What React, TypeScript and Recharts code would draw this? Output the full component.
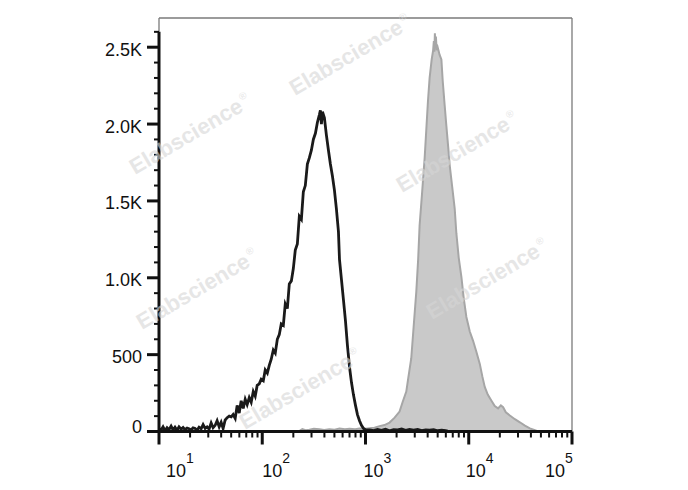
import React from "react";
import { ComposedChart, Area, Line, XAxis, YAxis, ReferenceLine } from "recharts";

// ---- data (x = log10 fluorescence intensity, y = count) ----
const blackLogX = [
  1.0, 1.019, 1.039, 1.058, 1.078, 1.097, 1.117, 1.136, 1.155, 1.175, 1.194, 1.214, 1.233, 1.252, 1.272,
  1.291, 1.311, 1.33, 1.35, 1.369, 1.388, 1.408, 1.427, 1.447, 1.466, 1.485, 1.505, 1.524, 1.544, 1.563,
  1.583, 1.602, 1.621, 1.641, 1.66, 1.68, 1.699, 1.718, 1.738, 1.757, 1.777, 1.796, 1.816, 1.835, 1.854,
  1.874, 1.893, 1.913, 1.932, 1.951, 1.971, 1.99, 2.01, 2.029, 2.049, 2.068, 2.087, 2.107, 2.126, 2.146,
  2.165, 2.184, 2.204, 2.223, 2.243, 2.262, 2.282, 2.301, 2.32, 2.34, 2.359, 2.379, 2.398, 2.417, 2.437,
  2.456, 2.476, 2.495, 2.515, 2.534, 2.553, 2.563, 2.573, 2.583, 2.602, 2.621, 2.641, 2.66, 2.68, 2.699,
  2.718, 2.738, 2.748, 2.767, 2.786, 2.806, 2.825, 2.845, 2.864, 2.883, 2.903, 2.922, 2.942, 2.961, 2.981,
  3.0, 3.039, 3.078, 3.117, 3.155, 3.194, 3.233, 3.272, 3.311, 3.35, 3.388, 3.427, 3.466, 3.505, 3.544,
  3.583, 3.621, 3.66, 3.699, 3.738, 3.777, 3.796,
];
const blackCount = [
  20, 8, 30, 5, 25, 12, 35, 10, 28, 8, 30, 15, 26, 12, 22,
  18, 10, 24, 20, 8, 28, 18, 45, 20, 30, 15, 55, 25, 40, 70,
  30, 60, 20, 75, 90, 100, 95, 110, 85, 170, 120, 200, 150, 210, 175,
  220, 190, 260, 230, 300, 310, 340, 330, 400, 380, 430, 470, 530, 510, 600,
  630, 700, 690, 830, 800, 960, 980, 1060, 1180, 1220, 1400, 1380, 1560, 1600, 1740,
  1780, 1830, 1900, 1940, 2010, 2060, 2090, 2000, 2080, 2040, 1930, 1830, 1740, 1660, 1570,
  1450, 1300, 1120, 990, 860, 720, 560, 420, 320, 240, 170, 110, 70, 40, 20,
  12, 10, 6, 14, 8, 15, 5, 12, 10, 16, 7, 13, 9, 14, 6,
  11, 9, 12, 5, 8, 6, 3,
];

const grayLogX = [
  1.0, 2.35, 2.388, 2.42, 2.456, 2.5, 2.553, 2.6, 2.65, 2.7, 2.748, 2.8, 2.845, 2.9, 2.942,
  3.0, 3.039, 3.087, 3.136, 3.184, 3.233, 3.282, 3.33, 3.359, 3.395, 3.417, 3.443, 3.466, 3.492, 3.51,
  3.524, 3.549, 3.573, 3.592, 3.605, 3.621, 3.641, 3.655, 3.662, 3.667, 3.672, 3.677, 3.682, 3.689, 3.699,
  3.718, 3.735, 3.748, 3.767, 3.783, 3.801, 3.816, 3.84, 3.864, 3.88, 3.903, 3.929, 3.951, 3.977, 4.01,
  4.042, 4.073, 4.107, 4.131, 4.155, 4.184, 4.22, 4.252, 4.284, 4.311, 4.333, 4.359, 4.398, 4.447, 4.495,
  4.544, 4.592, 4.641, 4.66, 4.689, 5.0,
];
const grayCount = [
  0, 0, 15, 8, 12, 18, 14, 10, 15, 12, 20, 15, 18, 14, 20,
  18, 22, 25, 35, 42, 58, 90, 130, 190, 260, 360, 475, 680, 910, 1120,
  1340, 1560, 1780, 2000, 2150, 2300, 2420, 2480, 2540, 2470, 2590, 2500, 2570, 2480, 2500,
  2450, 2420, 2280, 2120, 1990, 1850, 1730, 1590, 1450, 1290, 1130, 1005, 870, 745, 650,
  590, 520, 440, 360, 290, 240, 200, 165, 150, 170, 158, 125, 104, 80, 60,
  38, 20, 8, 3, 0, 0,
];

const yTickValues = [
  0, 100, 200, 300, 400, 500, 600, 700, 800, 900, 1000, 1100, 1200, 1300, 1400,
  1500, 1600, 1700, 1800, 1900, 2000, 2100, 2200, 2300, 2400, 2500, 2600,
];
const yMajorValues = [0, 500, 1000, 1500, 2000, 2500];
const yMajorLabels = ["0", "500", "1.0K", "1.5K", "2.0K", "2.5K"];
const xDecades = [1, 2, 3, 4, 5];
const xDecadeExponents = ["1", "2", "3", "4", "5"];
const watermarkText = "Elabscience";

// ---- derived tables ----
const blackData = blackLogX.map((e, i) => ({ e, v: blackCount[i] }));
const grayData = grayLogX.map((e, i) => ({ e, v: grayCount[i] }));
const xTickValues: number[] = [];
for (let d = 1; d <= 4; d++) {
  for (let k = 1; k <= 9; k++) xTickValues.push(d + Math.log10(k));
}
xTickValues.push(5);

const Y_MAX = 2690;
const FONT = "'Liberation Sans', Arial, sans-serif";
const xLabelShift = [7, 0, -2, -3, -27];

const YTick = (props: any) => {
  const { x, y, payload } = props;
  const v = payload.value;
  const idx = yMajorValues.indexOf(v);
  const major = idx >= 0;
  return (
    <g>
      <line x1={x - (major ? 12 : 5)} x2={x} y1={y} y2={y} stroke="#111" strokeWidth={major ? 3 : 2} />
      {major && (
        <text
          x={x - 17}
          y={y + (v === 0 ? -5 : 2) + 6.5}
          textAnchor="end"
          fontSize={18}
          fontFamily={FONT}
          fill="#111"
        >
          {yMajorLabels[idx]}
        </text>
      )}
    </g>
  );
};

const XTick = (props: any) => {
  const { x, y, payload } = props;
  const v = payload.value;
  const idx = xDecades.findIndex((d) => Math.abs(d - v) < 1e-6);
  const major = idx >= 0;
  return (
    <g>
      <line x1={x} x2={x} y1={y} y2={y + (major ? 13 : 6)} stroke="#111" strokeWidth={major ? 3 : 2} />
      {major && (
        <text x={x + xLabelShift[idx]} y={y + 45.5} fontSize={18} fontFamily={FONT} fill="#111">
          10
          <tspan fontSize={14} dy={-14}>
            {xDecadeExponents[idx]}
          </tspan>
        </text>
      )}
    </g>
  );
};

const watermarks = [
  [127, 167],
  [287, 88],
  [394, 185],
  [134, 322],
  [424, 312],
  [237, 422],
];

export default function App() {
  return (
    <div style={{ position: "relative", width: 680, height: 482 }}>
      <ComposedChart width={680} height={482} margin={{ top: 10, right: 116, bottom: 0, left: 0 }}>
        <XAxis
          dataKey="e"
          type="number"
          domain={[1, 5]}
          allowDataOverflow
          ticks={xTickValues}
          interval={0}
          tick={<XTick />}
          tickLine={false}
          tickSize={0}
          tickMargin={0}
          height={58.5}
          axisLine={{ stroke: "#111", strokeWidth: 3 }}
        />
        <YAxis
          type="number"
          domain={[0, Y_MAX]}
          allowDataOverflow
          ticks={yTickValues}
          interval={0}
          tick={<YTick />}
          tickLine={false}
          tickSize={0}
          tickMargin={0}
          width={151}
          axisLine={false}
        />
        <ReferenceLine
          segment={[{ x: 1, y: Y_MAX }, { x: 5, y: Y_MAX }]}
          stroke="#7a7a7a"
          strokeWidth={1.3}
          ifOverflow="visible"
        />
        <ReferenceLine
          segment={[{ x: 5, y: 0 }, { x: 5, y: Y_MAX }]}
          stroke="#7a7a7a"
          strokeWidth={1.3}
          ifOverflow="visible"
        />
        <ReferenceLine
          segment={[{ x: 1, y: 2600 }, { x: 1, y: Y_MAX }]}
          stroke="#7a7a7a"
          strokeWidth={1.3}
          ifOverflow="visible"
        />
        <Area
          data={grayData}
          dataKey="v"
          type="linear"
          stroke="#a6a6a6"
          strokeWidth={2}
          fill="#c9c9c9"
          fillOpacity={1}
          dot={false}
          activeDot={false}
          isAnimationActive={false}
        />
        <Line
          data={blackData}
          dataKey="v"
          type="linear"
          stroke="#1a1a1a"
          strokeWidth={2.8}
          dot={false}
          activeDot={false}
          isAnimationActive={false}
        />
        <ReferenceLine
          segment={[{ x: 1, y: 0 }, { x: 1, y: 2600 }]}
          stroke="#111"
          strokeWidth={3}
          ifOverflow="visible"
        />
      </ComposedChart>
      <svg
        width={680}
        height={482}
        style={{ position: "absolute", left: 0, top: 0, pointerEvents: "none" }}
      >
        {watermarks.map(([x, y], i) => (
          <text
            key={i}
            x={x}
            y={y}
            transform={`rotate(-30.5 ${x} ${y})`}
            fontSize={22}
            fontWeight="bold"
            fontFamily={FONT}
            fill="#d6d6d6"
            opacity={0.6}
          >
            {watermarkText}
            <tspan fontSize={10} fontWeight="normal" dx={2} dy={-10}>
              ®
            </tspan>
          </text>
        ))}
      </svg>
    </div>
  );
}
